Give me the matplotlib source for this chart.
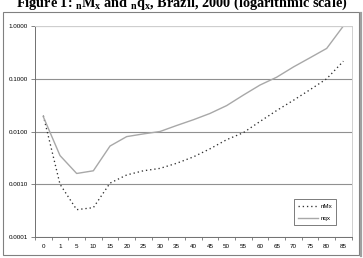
import numpy as np
import matplotlib
matplotlib.use("Agg")
import matplotlib.pyplot as plt
from matplotlib.patches import Rectangle
from matplotlib.lines import Line2D

ages = ['0', '1', '5', '10', '15', '20', '25', '30', '35', '40', '45',
        '50', '55', '60', '65', '70', '75', '80', '85']
nMx = [0.020, 0.0010, 0.00033, 0.00036, 0.00105, 0.0015, 0.0018, 0.0020,
       0.0025, 0.0033, 0.0047, 0.0070, 0.0095, 0.0155, 0.025, 0.039,
       0.062, 0.100, 0.215]
nqx = [0.019, 0.0035, 0.0016, 0.0018, 0.0053, 0.0080, 0.0090, 0.0100,
       0.0130, 0.0167, 0.022, 0.031, 0.049, 0.076, 0.107, 0.167,
       0.25, 0.376, 1.0]
yticks = [0.0001, 0.001, 0.01, 0.1, 1.0]

plt.rcParams['font.family'] = ['Liberation Sans', 'DejaVu Sans']
plt.rcParams['mathtext.fontset'] = 'custom'
plt.rcParams['mathtext.rm'] = 'Liberation Serif:bold'
plt.rcParams['mathtext.it'] = 'Liberation Serif:bold'

W, H = 363, 258
fig = plt.figure(figsize=(W / 100, H / 100), dpi=100)

# outer chart frame with a little shadow on the right / bottom
fig.patches.append(Rectangle((3 / W, 1 - 255 / H), 356 / W, 243 / H,
                             transform=fig.transFigure, fill=False,
                             edgecolor='#808080', lw=0.8))
fig.add_artist(Line2D([360.5 / W, 360.5 / W], [1 - 256 / H, 1 - 13 / H],
                      transform=fig.transFigure, color='#a0a0a0', lw=1.6))

fig.text(0.5, 1 - 7 / H,
         'Figure 1: $_{n}$M$_{x}$ and $_{n}$q$_{x}$, Brazil, 2000 (logarithmic scale)',
         ha='center', va='baseline', fontsize=10.3, fontweight='bold',
         family='Liberation Serif')

ax = fig.add_axes([35 / W, 1 - 237 / H, 316.7 / W, 211 / H])
x = np.arange(len(ages))
ax.plot(x, nMx, color='#303030', lw=0.95, linestyle=(0, (1, 2.2)), label='nMx')
ax.plot(x, nqx, color='#a8a8a8', lw=1.0, label='nqx')

ax.set_yscale('log')
ax.set_ylim(0.0001, 1.0)
ax.set_xlim(-0.5, len(ages) - 0.5)
ax.set_yticks(yticks)
ax.set_yticklabels(['%.4f' % v for v in yticks])
ax.yaxis.set_minor_locator(matplotlib.ticker.NullLocator())
ax.set_xticks(x)
ax.set_xticklabels(ages)
ax.set_xticks(np.arange(len(ages) + 1) - 0.5, minor=True)
ax.tick_params(axis='x', which='major', length=0, labelsize=4.5, pad=5)
ax.tick_params(axis='x', which='minor', length=2.5, width=0.5, color='#555555')
ax.tick_params(axis='y', which='major', length=3, width=0.5, color='#555555',
               labelsize=4.5, pad=2)
ax.grid(axis='y', color='#909090', lw=0.8)
ax.set_axisbelow(True)
for s in ['left', 'bottom']:
    ax.spines[s].set_color('#707070')
    ax.spines[s].set_linewidth(0.7)
for s in ['top', 'right']:
    ax.spines[s].set_color('#d0d0d0')
    ax.spines[s].set_linewidth(0.7)

leg = ax.legend(loc='upper left', bbox_to_anchor=(0.818, 0.178), fontsize=4.5,
                frameon=True, fancybox=False, edgecolor='#404040',
                handlelength=3.2, handletextpad=0.3, borderpad=0.7,
                labelspacing=1.0, borderaxespad=0)
leg.get_frame().set_linewidth(0.6)

fig.savefig('out.png', dpi=100)
